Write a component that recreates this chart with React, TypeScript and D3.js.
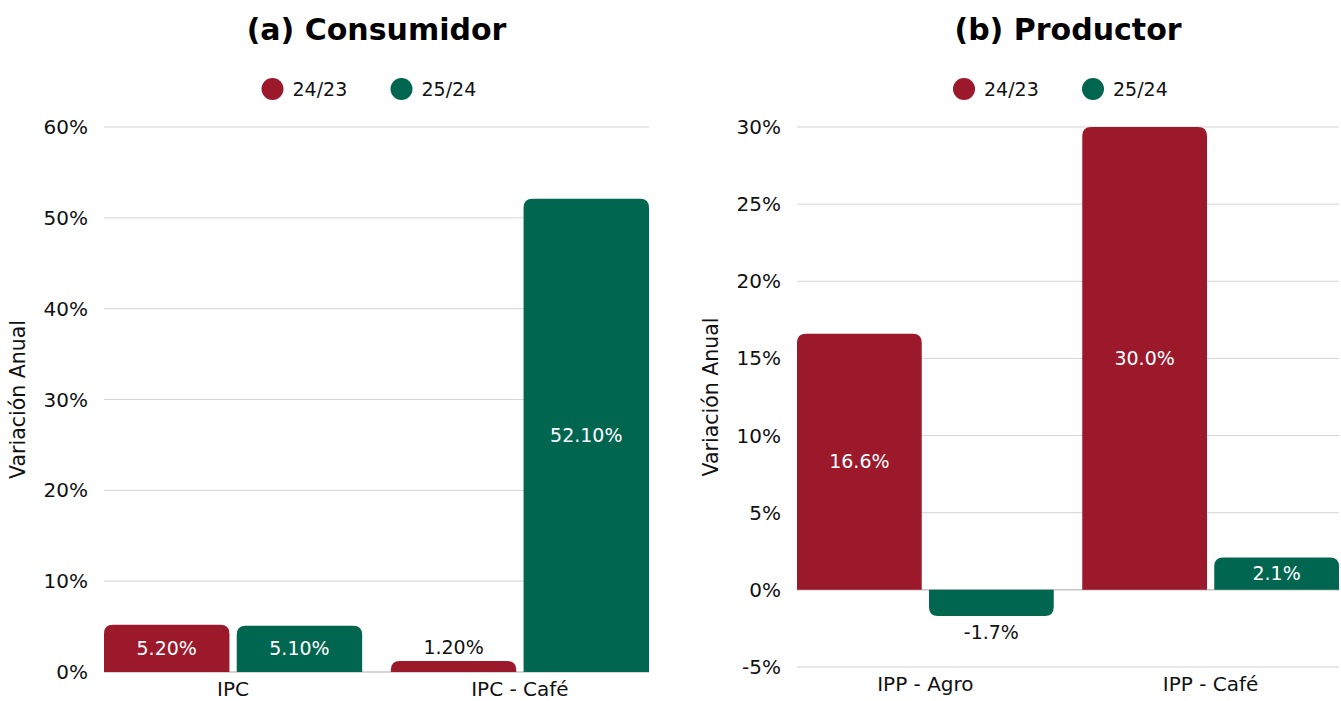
import React from "react";
import * as d3 from "d3";

const series = ["24/23", "25/24"];
const colors = ["#9c182b", "#00664f"];

const consumerCats = ["IPC", "IPC - Café"];
const consumer2423 = [5.2, 1.2];
const consumer2524 = [5.1, 52.1];
const consumerTicks = [0, 10, 20, 30, 40, 50, 60];

const producerCats = ["IPP - Agro", "IPP - Café"];
const producer2423 = [16.6, 30.0];
const producer2524 = [-1.7, 2.1];
const producerTicks = [-5, 0, 5, 10, 15, 20, 25, 30];

const FONT = "'DejaVu Sans', 'Noto Sans', sans-serif";

function barPath(x: number, y0: number, y1: number, w: number, r: number) {
  // y0 = baseline, y1 = value end; round corners at the value end
  const h = Math.abs(y1 - y0);
  const rr = Math.min(r, h, w / 2);
  if (y1 <= y0) {
    return `M${x},${y0}V${y1 + rr}Q${x},${y1} ${x + rr},${y1}H${x + w - rr}Q${x + w},${y1} ${x + w},${y1 + rr}V${y0}Z`;
  }
  return `M${x},${y0}V${y1 - rr}Q${x},${y1} ${x + rr},${y1}H${x + w - rr}Q${x + w},${y1} ${x + w},${y1 - rr}V${y0}Z`;
}

type PanelProps = {
  title: string;
  cats: string[];
  a: number[];
  b: number[];
  ticks: number[];
  left: number;
  right: number;
  top: number;
  bottom: number;
  decimals: number;
};

function Panel({ title, cats, a, b, ticks, left, right, top, bottom, decimals }: PanelProps) {
  const y = d3
    .scaleLinear()
    .domain([d3.min(ticks)!, d3.max(ticks)!])
    .range([bottom, top]);
  const x0 = d3.scaleBand().domain(cats).range([left, right]).paddingInner(0.1).paddingOuter(0);
  const x1 = d3.scaleBand().domain(series).range([0, x0.bandwidth()]).paddingInner(0.055);
  const cx = (left + right) / 2;
  const fmt = (v: number) => v.toFixed(decimals) + "%";
  const vals = [a, b];

  return (
    <g fontFamily={FONT}>
      <text x={cx} y={40} textAnchor="middle" fontSize={30} fontWeight={700} fill="#000">
        {title}
      </text>
      {series.map((s, i) => {
        const lx = cx - 104 + i * 129;
        return (
          <g key={s}>
            <circle cx={lx} cy={89} r={11} fill={colors[i]} />
            <text x={lx + 20} y={89} dy="0.35em" fontSize={19} fill="#111">
              {s}
            </text>
          </g>
        );
      })}
      {ticks.map((t) => (
        <g key={t}>
          <line x1={left} x2={right} y1={y(t)} y2={y(t)} stroke={t === 0 ? "#aaa" : "#d4d4d4"} strokeWidth={1} />
          <text x={left - 16} y={y(t)} dy="0.35em" textAnchor="end" fontSize={20} fill="#111">
            {t}%
          </text>
        </g>
      ))}
      <text
        transform={`translate(${left - 79},${(top + bottom) / 2}) rotate(-90)`}
        textAnchor="middle"
        fontSize={20.5}
        fill="#111"
      >
        Variación Anual
      </text>
      {cats.map((c, ci) => (
        <g key={c}>
          {series.map((s, si) => {
            const v = vals[si][ci];
            const bx = x0(c)! + x1(s)!;
            const w = x1.bandwidth();
            const y0 = y(0);
            const y1 = y(v);
            const h = Math.abs(y1 - y0);
            const inside = h >= 30;
            const ly = inside ? (y0 + y1) / 2 : v >= 0 ? y1 - 14 : y1 + 16;
            return (
              <g key={s}>
                <path d={barPath(bx, y0, y1, w, 9)} fill={colors[si]} />
                <text
                  x={bx + w / 2}
                  y={ly}
                  dy="0.35em"
                  textAnchor="middle"
                  fontSize={19}
                  fill={inside ? "#fff" : "#111"}
                >
                  {fmt(v)}
                </text>
              </g>
            );
          })}
          <text x={x0(c)! + x0.bandwidth() / 2} y={bottom + 24} textAnchor="middle" fontSize={20} fill="#111">
            {c}
          </text>
        </g>
      ))}
    </g>
  );
}

export default function App() {
  return (
    <svg width={1341} height={701} style={{ position: "absolute", left: 0, top: 0, background: "#fff" }}>
      <rect width={1341} height={701} fill="#fff" />
      <Panel
        title="(a) Consumidor"
        cats={consumerCats}
        a={consumer2423}
        b={consumer2524}
        ticks={consumerTicks}
        left={104}
        right={649}
        top={127}
        bottom={672}
        decimals={2}
      />
      <Panel
        title="(b) Productor"
        cats={producerCats}
        a={producer2423}
        b={producer2524}
        ticks={producerTicks}
        left={797}
        right={1339}
        top={127}
        bottom={667}
        decimals={1}
      />
    </svg>
  );
}
